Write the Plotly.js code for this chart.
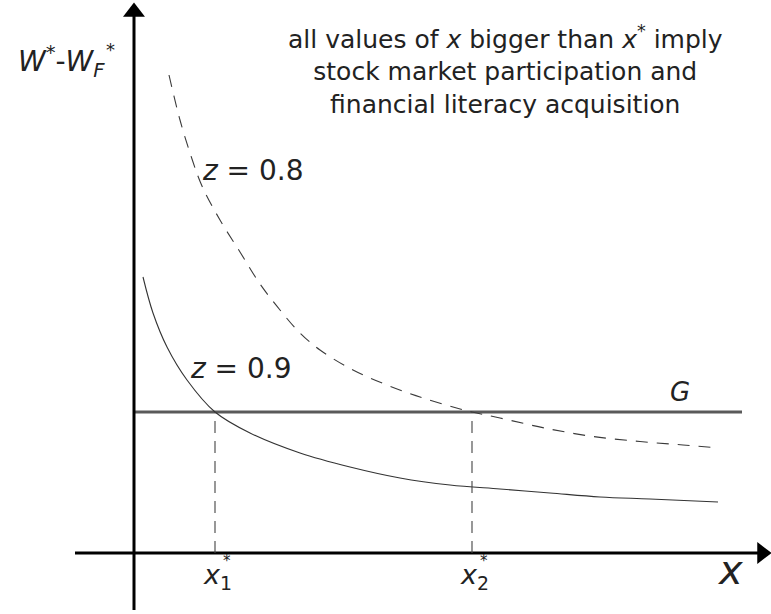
<!DOCTYPE html>
<html>
<head>
<meta charset="utf-8">
<script src="https://cdn.plot.ly/plotly-3.0.1.min.js"></script>
<style>html,body{margin:0;padding:0;background:#fff;}#chart{width:771px;height:614px;}</style>
</head>
<body>
<div id="chart"></div>
<script>
// Curve z = 0.8 (dashed)
const xZ08 = [0.70, 0.92, 1.16, 1.36, 1.72, 2.12, 2.52, 2.92, 3.32, 3.72, 4.38, 5.06, 5.72, 6.38, 6.76, 7.32, 8.26, 9.18, 10.12, 10.98, 11.70];
const yZ08 = [9.56, 8.66, 7.88, 7.34, 6.66, 6.02, 5.38, 4.86, 4.40, 4.06, 3.66, 3.36, 3.12, 2.92, 2.82, 2.70, 2.49, 2.33, 2.23, 2.16, 2.10];
// Curve z = 0.9 (solid)
const xZ09 = [0.18, 0.38, 0.66, 1.06, 1.62, 2.32, 3.32, 4.32, 5.32, 6.32, 7.32, 8.32, 9.32, 10.32, 11.68];
const yZ09 = [5.52, 4.80, 4.12, 3.46, 2.82, 2.40, 2.00, 1.72, 1.50, 1.36, 1.28, 1.20, 1.12, 1.08, 1.02];
// Threshold G
const gLevel = 2.82;
const gEnd = 12.16;
// Critical x* values
const xStars = [1.62, 6.76];
const xStarLabels = ['1', '2'];
// Axis extents
const xAxisFrom = -1.18, xAxisTo = 12.56;
const yAxisFrom = -1.14, yAxisTo = 10.82;

const FONT = 'DejaVu Sans, Liberation Sans, sans-serif';
const ink = '#222';

const traces = [
  {x: [0, gEnd], y: [gLevel, gLevel], mode: 'lines', line: {color: '#5a5a5a', width: 3}, hoverinfo: 'skip'},
  {x: xZ08, y: yZ08, mode: 'lines', line: {color: '#3a3a3a', width: 1.1, dash: '12px,9px', shape: 'spline'}, hoverinfo: 'skip'},
  {x: xZ09, y: yZ09, mode: 'lines', line: {color: '#333', width: 1.1, shape: 'spline'}, hoverinfo: 'skip'},
  // axes
  {x: [xAxisFrom, xAxisTo], y: [0, 0], mode: 'lines', line: {color: '#000', width: 3}, hoverinfo: 'skip'},
  {x: [0, 0], y: [yAxisFrom, yAxisTo], mode: 'lines', line: {color: '#000', width: 3}, hoverinfo: 'skip'},
  // arrowheads
  {x: [xAxisTo], y: [0], mode: 'markers', marker: {symbol: 'triangle-right', size: 19, color: '#000'}, hoverinfo: 'skip', cliponaxis: false},
  {x: [0], y: [yAxisTo], mode: 'markers', marker: {symbol: 'triangle-up', size: 19, color: '#000'}, hoverinfo: 'skip', cliponaxis: false}
];

const shapes = xStars.map(v => ({
  type: 'line', xref: 'x', yref: 'y', x0: v, x1: v, y0: 0, y1: gLevel,
  line: {color: '#444', width: 1.1, dash: '12px,8px'}
}));

const annotations = [];
annotations.push({x: 7.42, y: 9.66, xref: 'x', yref: 'y', showarrow: false, align: 'center',
  text: 'all values of <i>x</i> bigger than <i>x</i><sup>*</sup> imply<br>stock market participation and<br>financial literacy acquisition',
  font: {family: FONT, size: 25, color: ink}});
annotations.push({x: -1.46, y: 9.84, xref: 'x', yref: 'y', showarrow: false,
  text: '<i>W</i><sup>*</sup>-<i>W</i><sub><i>F</i></sub>', font: {family: FONT, size: 28, color: ink}});
annotations.push({x: -0.48, y: 10.08, xref: 'x', yref: 'y', showarrow: false,
  text: '*', font: {family: FONT, size: 18, color: ink}});
annotations.push({x: 2.38, y: 7.66, xref: 'x', yref: 'y', showarrow: false,
  text: '<i>z</i> = 0.8', font: {family: FONT, size: 28, color: ink}});
annotations.push({x: 2.14, y: 3.70, xref: 'x', yref: 'y', showarrow: false,
  text: '<i>z</i> = 0.9', font: {family: FONT, size: 28, color: ink}});
annotations.push({x: 10.92, y: 3.22, xref: 'x', yref: 'y', showarrow: false,
  text: '<i>G</i>', font: {family: FONT, size: 26, color: ink}});
annotations.push({x: 11.92, y: -0.34, xref: 'x', yref: 'y', showarrow: false,
  text: '<i>x</i>', font: {family: FONT, size: 40, color: ink}});
xStars.forEach((v, i) => {
  annotations.push({x: v + 0.04, y: -0.46, xref: 'x', yref: 'y', showarrow: false,
    text: '<i>x</i><sub>' + xStarLabels[i] + '</sub>', font: {family: FONT, size: 27, color: ink}});
  annotations.push({x: v + 0.24, y: -0.16, xref: 'x', yref: 'y', showarrow: false,
    text: '*', font: {family: FONT, size: 15, color: ink}});
});

const layout = {
  width: 771, height: 614,
  margin: {l: 0, r: 0, t: 0, b: 0},
  paper_bgcolor: '#fff', plot_bgcolor: '#fff',
  showlegend: false,
  xaxis: {range: [-2.68, 12.74], visible: false, fixedrange: true},
  yaxis: {range: [-1.22, 11.06], visible: false, fixedrange: true},
  shapes: shapes,
  annotations: annotations
};

Plotly.newPlot('chart', traces, layout, {staticPlot: true, displayModeBar: false});
</script>
</body>
</html>
